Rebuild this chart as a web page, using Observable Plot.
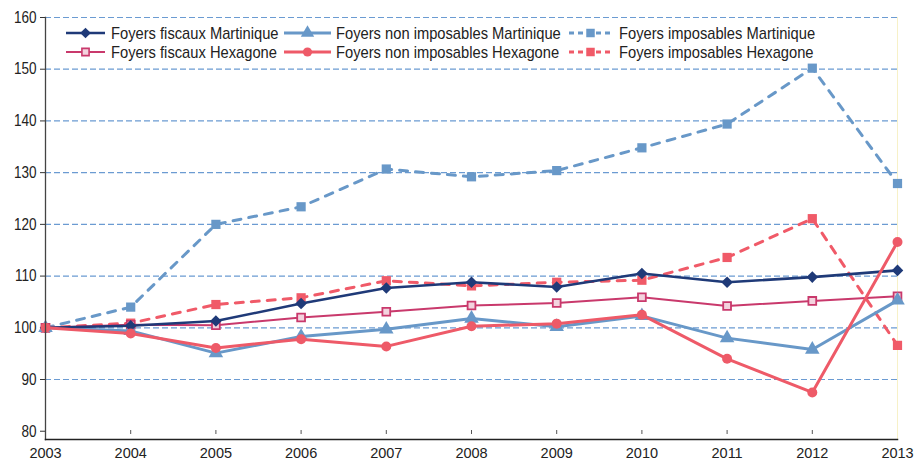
<!DOCTYPE html>
<html><head><meta charset="utf-8">
<script src="https://cdn.jsdelivr.net/npm/d3@7"></script>
<script src="https://cdn.jsdelivr.net/npm/@observablehq/plot@0.6"></script>
<style>
body{margin:0;background:#fff;}
#chart svg{font-family:"Liberation Sans",Arial,sans-serif;display:block;}
</style>
</head><body><div id="chart"></div>
<script>
// ---- data (indices, base 100 in 2003) ----
const years = [2003,2004,2005,2006,2007,2008,2009,2010,2011,2012,2013];
const fiscauxMartinique      = [100,100.4,101.3,104.7,107.7,108.8,107.9,110.5,108.8,109.8,111.1];
const fiscauxHexagone        = [100,100.6,100.5,102.0,103.1,104.3,104.8,105.9,104.2,105.2,106.1];
const nonImpMartinique       = [100,99.4,95.1,98.3,99.7,101.8,100.2,102.3,98.0,95.8,105.3];
const nonImpHexagone         = [100,98.9,96.1,97.8,96.4,100.3,100.8,102.5,94.0,87.5,116.6];
const impMartinique          = [100,104.0,120.0,123.4,130.7,129.2,130.4,134.8,139.4,150.2,127.9];
const impHexagone            = [100,100.9,104.5,105.8,109.1,108.1,108.8,109.2,113.6,121.1,96.6];
const seriesNames = [
  "Foyers fiscaux Martinique","Foyers non imposables Martinique","Foyers imposables Martinique",
  "Foyers fiscaux Hexagone","Foyers non imposables Hexagone","Foyers imposables Hexagone"
];
const yTicks = [80,90,100,110,120,130,140,150,160];

// ---- styles ----
const font = "'Liberation Sans', Arial, sans-serif";
const styles = {
  "Foyers fiscaux Martinique":        {values: fiscauxMartinique, color:"#1f3a78", width:2.6, dash:null, symbol:"diamond2", r:5.2, fill:"#1f3a78"},
  "Foyers non imposables Martinique": {values: nonImpMartinique,  color:"#6898c8", width:3,   dash:null, symbol:"triangle", r:5.4, fill:"#6898c8"},
  "Foyers imposables Martinique":     {values: impMartinique,     color:"#6898c8", width:3,   dash:"8,8", symbol:"square", r:5.2, fill:"#6898c8"},
  "Foyers fiscaux Hexagone":          {values: fiscauxHexagone,   color:"#c9396c", width:2,   dash:null, symbol:"square", r:4.4, fill:"#f3d3de"},
  "Foyers non imposables Hexagone":   {values: nonImpHexagone,    color:"#ee5a68", width:3,   dash:null, symbol:"circle", r:5,   fill:"#ee5a68"},
  "Foyers imposables Hexagone":       {values: impHexagone,       color:"#f05a68", width:3,   dash:"8,8", symbol:"square", r:5.2, fill:"#f05a68"}
};
const drawOrder = [
  "Foyers imposables Martinique","Foyers imposables Hexagone","Foyers fiscaux Hexagone",
  "Foyers non imposables Martinique","Foyers fiscaux Martinique","Foyers non imposables Hexagone"
];

const seriesMarks = drawOrder.flatMap(name => {
  const s = styles[name];
  const rows = years.map((y,i) => ({year:y, value:s.values[i]}));
  return [
    Plot.line(rows, {x:"year", y:"value", stroke:s.color, strokeWidth:s.width, strokeDasharray:s.dash}),
    Plot.dot(rows, {x:"year", y:"value", symbol:()=>s.symbol, r:s.r, fill:s.fill, stroke:s.color,
                    strokeWidth: name==="Foyers fiscaux Hexagone" ? 1.8 : 0})
  ];
});

const chart = Plot.plot({
  width:923, height:463,
  marginTop:17, marginBottom:24, marginLeft:45, marginRight:26,
  style:{fontFamily:font, fontSize:"14px", color:"#222"},
  x:{domain:[2003,2013]},
  y:{domain:[78.4,160]},
  symbol:{type:"identity"},
  marks:[
    Plot.ruleY(yTicks.filter(d=>d>80), {stroke:"#6b9bd2", strokeWidth:1.2, strokeDasharray:"6,3"}),
    Plot.axisY({ticks:yTicks, tickSize:5, tickPadding:4, fontSize:16.5, stroke:"#333", color:"#222", label:null}),
    Plot.axisX({ticks:years, tickSize:4, dy:-9, text:null, stroke:"#555", label:null}),
    Plot.axisX({ticks:years, tickSize:0, tickPadding:8, fontSize:14.5, tickFormat:d=>String(d), label:null}),
    Plot.frame({anchor:"right", stroke:"#f7f1c8"}),
    ...seriesMarks,
    Plot.frame({anchor:"left", stroke:"#444", strokeWidth:1.3}),
    Plot.frame({anchor:"bottom", stroke:"#222", strokeWidth:1.5})
  ]
});
document.getElementById("chart").append(chart);

// condense the y tick labels (narrow typeface look)
d3.select(chart).selectAll('g[aria-label="y-axis tick label"] text').each(function(){
  const w = this.getComputedTextLength();
  d3.select(this).attr("textLength", w*0.82).attr("lengthAdjust","spacingAndGlyphs");
});

// ---- legend (inside plot, 3 columns x 2 rows) ----
const svg = d3.select(chart);
const g = svg.append("g").attr("font-family",font)
  .attr("font-size",17).attr("fill","#222").attr("text-anchor","start");
const colX = [[66,105,111],[284,331,336],[569,612,619]];
const rowY = [33,52];
seriesNames.forEach((name,i) => {
  const s = styles[name];
  const col = i % 3, row = Math.floor(i/3);
  const [x1,x2,tx] = colX[col], y = rowY[row];
  g.append("line").attr("x1",x1).attr("x2",x2).attr("y1",y).attr("y2",y)
    .attr("stroke",s.color).attr("stroke-width",s.width)
    .attr("stroke-dasharray", s.dash ? "5,4" : null);
  const symType = {diamond2:d3.symbolDiamond2, triangle:d3.symbolTriangle, square:d3.symbolSquare, circle:d3.symbolCircle}[s.symbol];
  g.append("path").attr("d", d3.symbol(symType, Math.PI*s.r*s.r*0.85)())
    .attr("transform",`translate(${(x1+x2)/2},${y})`)
    .attr("fill",s.fill).attr("stroke",s.color)
    .attr("stroke-width", name==="Foyers fiscaux Hexagone" ? 1.6 : 0);
  const t = g.append("text").attr("x",tx).attr("y",y).attr("dy","0.35em").attr("text-anchor","start")
    .text(name);
  const w = t.node().getComputedTextLength();
  t.attr("textLength", w*0.865).attr("lengthAdjust","spacingAndGlyphs");
});
</script>
</body></html>
